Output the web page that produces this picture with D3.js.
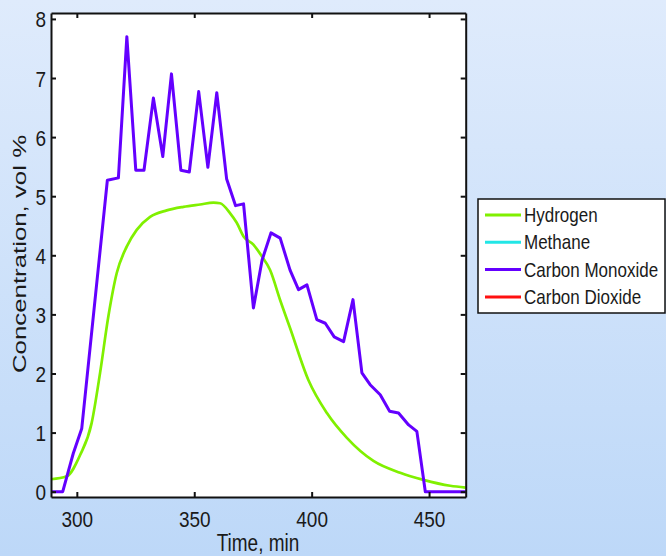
<!DOCTYPE html>
<html>
<head>
<meta charset="utf-8">
<script src="https://cdn.jsdelivr.net/npm/d3@7"></script>
<style>
  body { margin: 0; }
  svg { display: block; font-family: "Liberation Sans", Arial, sans-serif; }
</style>
</head>
<body>
<div id="chart"></div>
<script>
// concentration vs time chart

const WIDTH = 666;
const HEIGHT = 556;
const PLOT = {left: 51, top: 13, right: 465.7, bottom: 497};

// series
const SERIES_NAMES = ['Hydrogen', 'Methane', 'Carbon Monoxide', 'Carbon Dioxide'];
const SERIES_COLORS = ['#80f000', '#22e6e6', '#6400ff', '#ff1010'];

const hydrogenTime = [289, 295.7, 301.4, 306.3, 309.9, 313.4, 317.0, 321.3, 325.5, 331.2, 338.3, 345.4,
  352.5, 358.2, 361.0, 365.3, 368.1, 371.0, 375.2, 378.5, 382.3, 386.6, 390.8, 398.6, 406.5, 415.0,
  426.3, 437.7, 447.6, 459.0, 465.6];
const hydrogenConc = [0.21, 0.26, 0.62, 1.16, 2.01, 2.96, 3.70, 4.15, 4.43, 4.65, 4.76, 4.82,
  4.86, 4.89, 4.88, 4.71, 4.55, 4.32, 4.18, 4.0, 3.75, 3.24, 2.77, 1.89, 1.33, 0.91,
  0.52, 0.32, 0.20, 0.10, 0.07];

const coTime = [289, 294.0, 298.5, 302.1, 313.0, 317.7, 321.3, 325.1, 328.6, 332.6, 336.6, 340.3,
  344.3, 347.9, 351.9, 355.8, 359.6, 363.8, 367.6, 371.0, 375.2, 378.9, 382.7, 386.6, 390.8,
  394.4, 398.0, 402.2, 405.8, 409.6, 413.6, 417.6, 421.4, 424.9, 429.2, 433.2, 437.0, 441.3,
  444.8, 448.4, 465.6];
const coConc = [0, 0, 0.65, 1.07, 5.27, 5.31, 7.70, 5.44, 5.44, 6.66, 5.67, 7.07,
  5.44, 5.41, 6.77, 5.49, 6.75, 5.29, 4.84, 4.87, 3.11, 3.92, 4.38, 4.29, 3.75,
  3.42, 3.50, 2.91, 2.85, 2.62, 2.54, 3.25, 2.01, 1.81, 1.64, 1.36, 1.33, 1.13,
  1.02, 0, 0];

// methane and carbon dioxide are only in the legend
const methaneTime = [];
const methaneConc = [];
const co2Time = [];
const co2Conc = [];

const X_TICKS = [300, 350, 400, 450];
const Y_TICKS = [0, 1, 2, 3, 4, 5, 6, 7, 8];

const svg = d3.select('#chart')
  .append('svg')
    .attr('width', WIDTH)
    .attr('height', HEIGHT);

const grad = svg.append('defs')
  .append('linearGradient')
    .attr('id', 'bg')
    .attr('x1', 0).attr('y1', 0)
    .attr('x2', 0).attr('y2', 1);
grad.append('stop').attr('offset', '0%').attr('stop-color', '#dfebfc');
grad.append('stop').attr('offset', '100%').attr('stop-color', '#bdd8f8');

svg.append('rect')
  .attr('width', WIDTH)
  .attr('height', HEIGHT)
  .attr('fill', 'url(#bg)');

const x = d3.scaleLinear()
  .domain([289, 465.6])
  .range([PLOT.left, PLOT.right]);

const y = d3.scaleLinear()
  .domain([-0.09, 8.1])
  .range([PLOT.bottom, PLOT.top]);

svg.append('rect')
  .attr('x', PLOT.left)
  .attr('y', PLOT.top)
  .attr('width', PLOT.right - PLOT.left)
  .attr('height', PLOT.bottom - PLOT.top)
  .attr('fill', '#ffffff');

// lines
const line = d3.line()
  .x(d => x(d[0]))
  .y(d => y(d[1]));

const seriesData = [
  d3.zip(hydrogenTime, hydrogenConc),
  d3.zip(methaneTime, methaneConc),
  d3.zip(coTime, coConc),
  d3.zip(co2Time, co2Conc)
];

const plotG = svg.append('g');
seriesData.forEach((pts, i) => {
  if (pts.length === 0) return;
  plotG.append('path')
    .datum(pts)
    .attr('fill', 'none')
    .attr('stroke', SERIES_COLORS[i])
    .attr('stroke-width', i === 0 ? 2.7 : 3)
    .attr('stroke-linejoin', 'round')
    .attr('d', i === 0 ? line.curve(d3.curveMonotoneX)(pts) : line.curve(d3.curveLinear)(pts));
});

// axes, box with inward ticks
function styleAxis(g) {
  g.select('.domain').attr('stroke', '#111').attr('stroke-width', 2);
  g.selectAll('.tick line').attr('stroke', '#111').attr('stroke-width', 2);
}

const bottomAx = svg.append('g')
  .attr('transform', 'translate(0,' + PLOT.bottom + ')')
  .call(d3.axisBottom(x).tickValues(X_TICKS).tickSize(-5).tickSizeOuter(0).tickPadding(5));
styleAxis(bottomAx);
bottomAx.selectAll('.tick text')
  .attr('y', null).attr('dy', null)
  .attr('transform', 'translate(0,30) scale(1,1.2)')
  .attr('font-size', '19px')
  .attr('fill', '#1a1a1a');

const leftAx = svg.append('g')
  .attr('transform', 'translate(' + PLOT.left + ',0)')
  .call(d3.axisLeft(y).tickValues(Y_TICKS).tickSize(-5).tickSizeOuter(0).tickPadding(5));
styleAxis(leftAx);
leftAx.selectAll('.tick text')
  .attr('x', null).attr('dy', null)
  .attr('transform', 'translate(-5,8) scale(1,1.2)')
  .attr('font-size', '19px')
  .attr('fill', '#1a1a1a');

const topAx = svg.append('g')
  .attr('transform', 'translate(0,' + PLOT.top + ')')
  .call(d3.axisTop(x).tickValues(X_TICKS).tickSize(-5).tickSizeOuter(0).tickFormat(''));
styleAxis(topAx);

const rightAx = svg.append('g')
  .attr('transform', 'translate(' + PLOT.right + ',0)')
  .call(d3.axisRight(y).tickValues(Y_TICKS).tickSize(-5).tickSizeOuter(0).tickFormat(''));
styleAxis(rightAx);

// axis titles
svg.append('text')
  .attr('transform', 'translate(258,551) scale(1,1.25)')
  .attr('text-anchor', 'middle')
  .attr('font-size', '19px')
  .attr('fill', '#1a1a1a')
  .text('Time, min');

svg.append('text')
  .attr('transform', 'translate(26,254) rotate(-90) scale(1.36,1)')
  .attr('text-anchor', 'middle')
  .attr('font-size', '19px')
  .attr('fill', '#1a1a1a')
  .text('Concentration, vol %');

// legend
const legend = svg.append('g').attr('transform', 'translate(478,199)');
legend.append('rect')
  .attr('width', 187)
  .attr('height', 114)
  .attr('fill', '#ffffff')
  .attr('stroke', '#111')
  .attr('stroke-width', 1.5);

const legendRows = legend.selectAll('.row')
  .data(SERIES_NAMES)
  .enter()
  .append('g')
    .attr('class', 'row')
    .attr('transform', (d, i) => 'translate(0,' + (16 + i * 27.3) + ')');

legendRows.append('line')
  .attr('x1', 7).attr('x2', 43)
  .attr('stroke', (d, i) => SERIES_COLORS[i])
  .attr('stroke-width', 3);

legendRows.append('text')
  .attr('transform', 'translate(46,7) scale(1,1.22)')
  .attr('font-size', '17px')
  .attr('fill', '#1a1a1a')
  .text(d => d);
</script>
</body>
</html>
